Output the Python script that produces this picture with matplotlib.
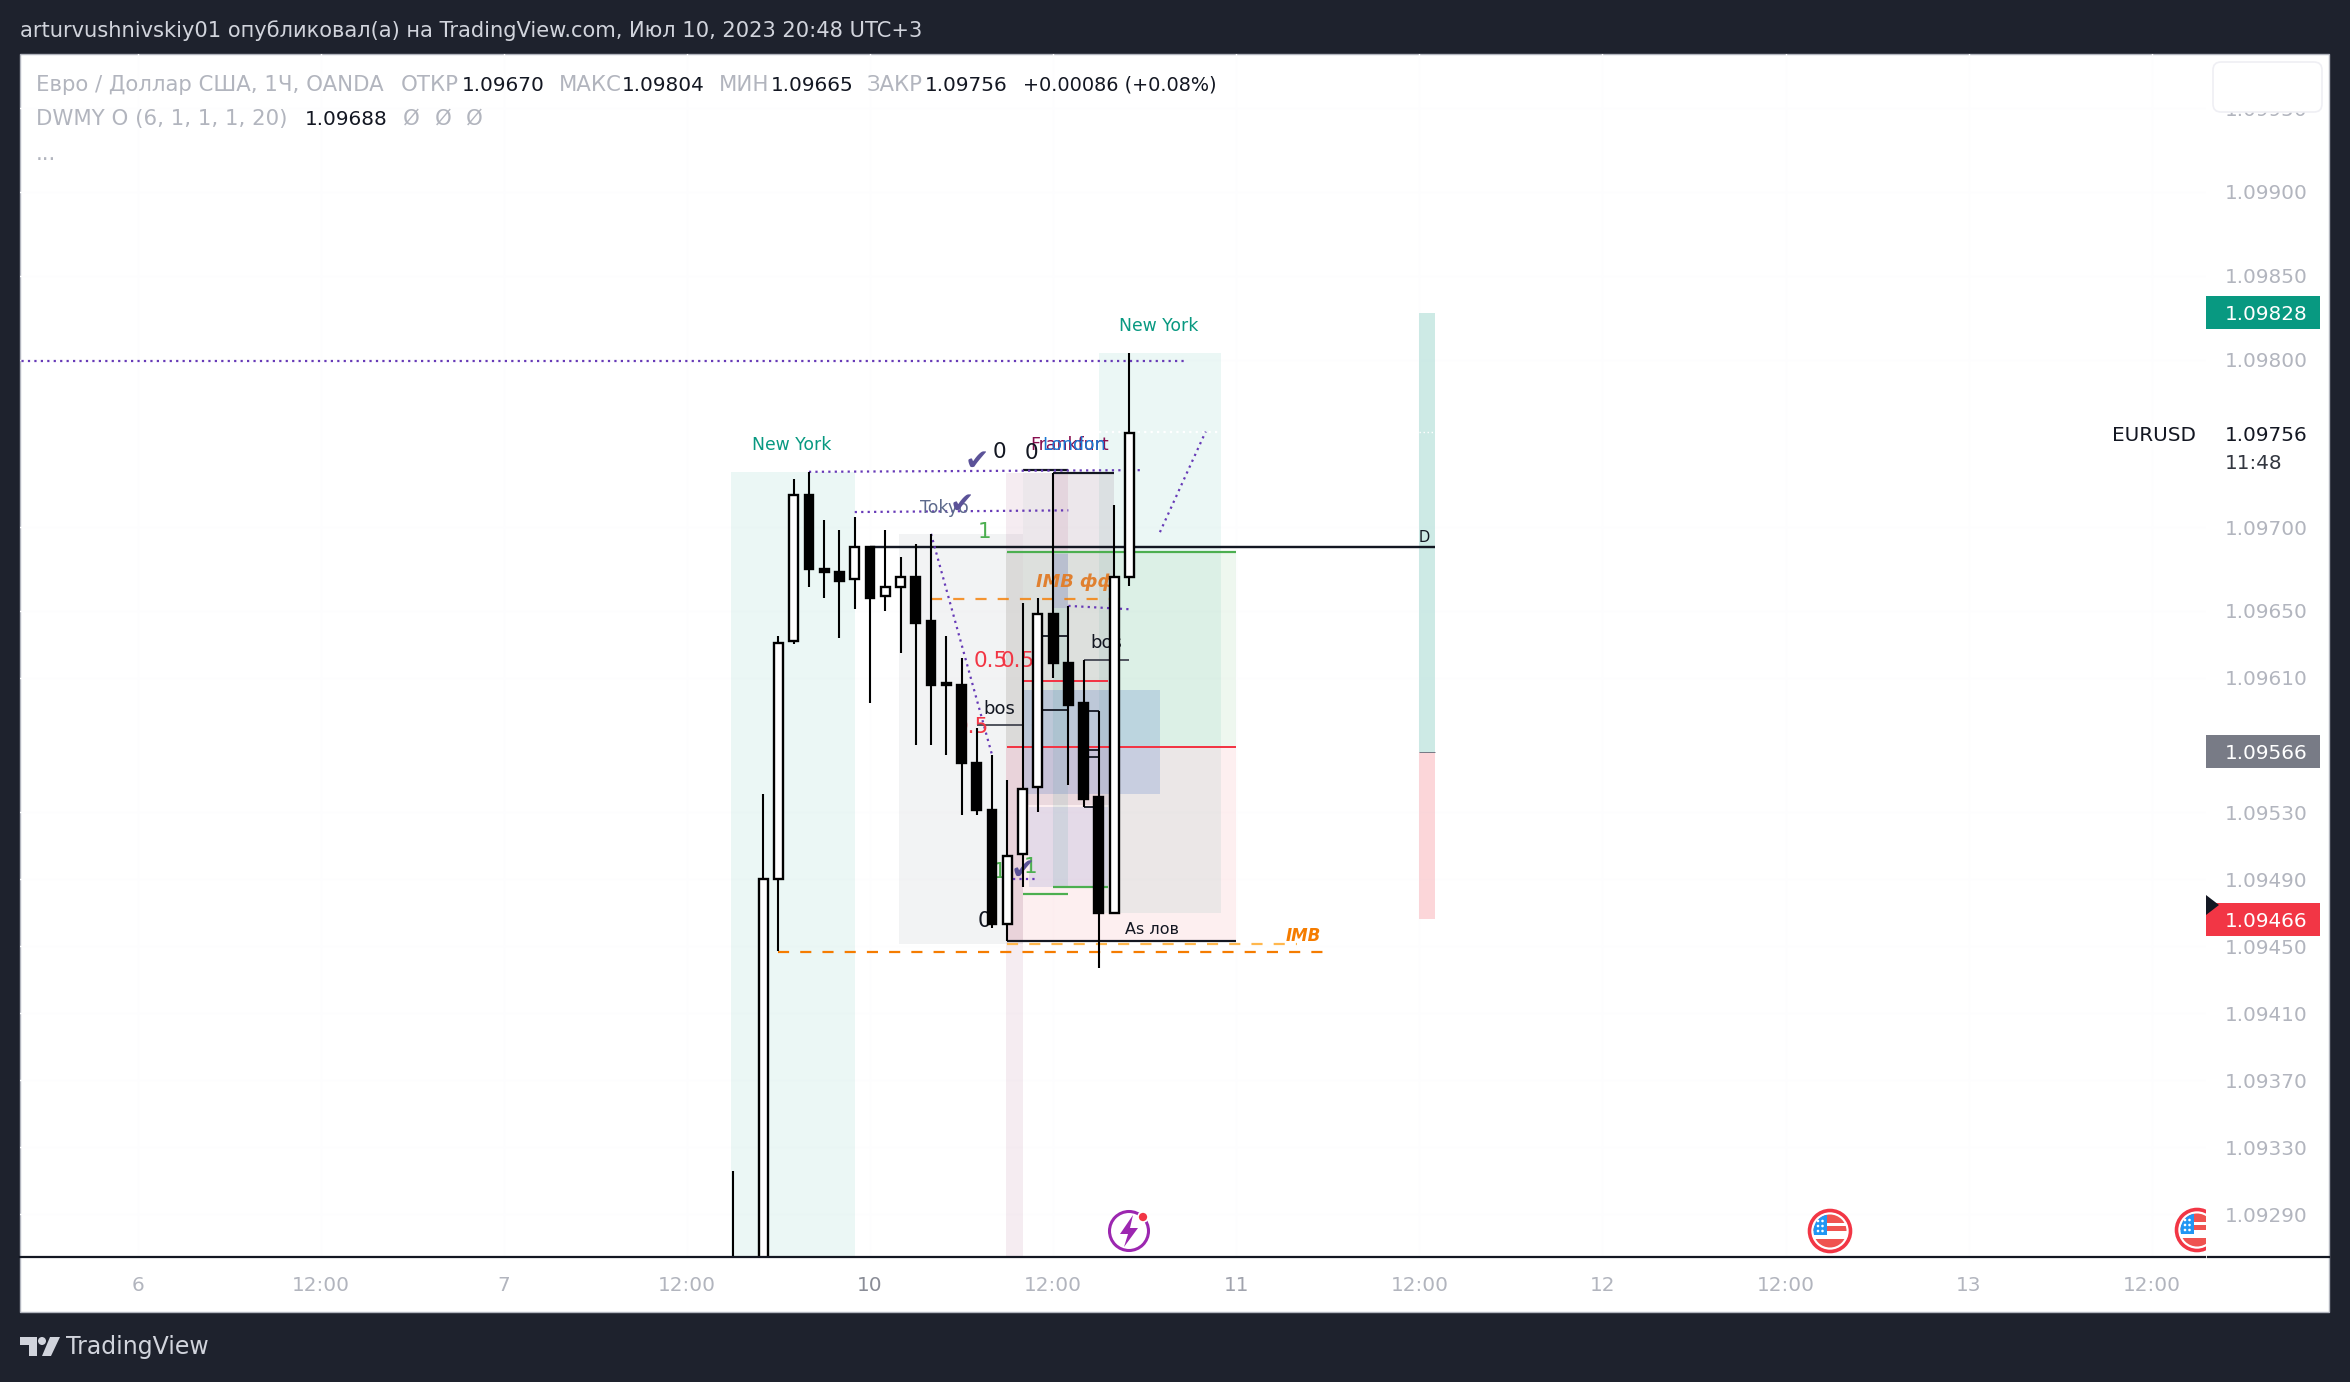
import matplotlib
matplotlib.use("Agg")
from matplotlib import pyplot as plt
from matplotlib.lines import Line2D
from matplotlib.patches import Circle, FancyBboxPatch, Polygon, Rectangle

W, H = 2350, 1382
plt.rcParams["font.family"] = ["DejaVu Sans"]

# candles, hours from 10 Jul 00:00 (weekend collapsed)
bar_hours = [-9, -7, -6, -5, -4, -3, -2, -1, 0, 1, 2, 3, 4, 5, 6, 7, 8, 9, 10, 11, 12, 13, 14, 15, 16, 17]
opens = [1.09210, 1.09180, 1.09490, 1.09632, 1.09719, 1.09675, 1.09673, 1.09669, 1.09688, 1.09659, 1.09664, 1.09670, 1.09644,
         1.09607, 1.09606, 1.09559, 1.09531, 1.09463, 1.09505, 1.09545, 1.09648, 1.09619, 1.09595, 1.09539, 1.09470, 1.09670]
highs = [1.09316, 1.09541, 1.09635, 1.09729, 1.09733, 1.09704, 1.09698, 1.09706, 1.09689, 1.09698, 1.09682, 1.09690, 1.09696,
         1.09635, 1.09622, 1.09580, 1.09564, 1.09549, 1.09655, 1.09658, 1.09732, 1.09653, 1.09621, 1.09590, 1.09713, 1.09804]
lows = [1.09200, 1.09170, 1.09447, 1.09630, 1.09664, 1.09658, 1.09634, 1.09651, 1.09595, 1.09650, 1.09625, 1.09570, 1.09570,
        1.09564, 1.09528, 1.09528, 1.09461, 1.09453, 1.09485, 1.09530, 1.09610, 1.09546, 1.09533, 1.09437, 1.09470, 1.09665]
closes = [1.09240, 1.09490, 1.09631, 1.09719, 1.09675, 1.09673, 1.09668, 1.09688, 1.09658, 1.09664, 1.09670, 1.09643, 1.09606,
          1.09606, 1.09559, 1.09531, 1.09463, 1.09504, 1.09544, 1.09648, 1.09619, 1.09594, 1.09538, 1.09470, 1.09670, 1.09756]

price_ticks = [1.09950, 1.09900, 1.09850, 1.09800, 1.09700, 1.09650, 1.09610, 1.09530,
               1.09490, 1.09450, 1.09410, 1.09370, 1.09330, 1.09290]
time_ticks = [-48, -36, -24, -12, 0, 12, 24, 36, 48, 60, 72, 84]
time_labels = ["6", "12:00", "7", "12:00", "10", "12:00", "11", "12:00", "12", "12:00", "13", "12:00"]

# h0, h1, p_low, p_high, colour, alpha
zones = [
    (-9.1, -1.0, 1.0920, 1.09733, "#089981", 0.08),
    (15.0, 23.0, 1.09470, 1.09804, "#089981", 0.08),
    (1.9, 10.0, 1.09451, 1.09696, "#787B86", 0.09),
    (8.9, 24.0, 1.09569, 1.09685, "#4CAF50", 0.09),
    (8.9, 24.0, 1.09453, 1.09569, "#F23645", 0.08),
    (8.9, 10.0, 1.0920, 1.09732, "#880E4F", 0.08),
    (10.0, 16.0, 1.09534, 1.09732, "#880E4F", 0.05),
    (10.0, 16.0, 1.09534, 1.09732, "#787B86", 0.09),
    (12.0, 13.0, 1.09685, 1.09732, "#880E4F", 0.08),
    (12.0, 13.0, 1.09485, 1.09685, "#089981", 0.09),
    (10.0, 19.0, 1.09541, 1.09603, "#3F6BC4", 0.20),
    (10.4, 15.6, 1.09485, 1.09533, "#3F51B5", 0.13),
    (12.0, 13.0, 1.09652, 1.09684, "#673AB7", 0.16),
    (36.0, 37.0, 1.09566, 1.09828, "#089981", 0.20),
    (36.0, 37.0, 1.09466, 1.09566, "#F23645", 0.20),
]

# h0, p0, h1, p1
purple_dots = [
    (-56, 1.09799, 20.7, 1.09799),
    (-4, 1.09733, 17.8, 1.09734),
    (-1, 1.09709, 13, 1.09710),
    (4, 1.09696, 8, 1.09564),
    (19, 1.09697, 22, 1.09757),
    (13, 1.09653, 17, 1.09651),
    (9.4, 1.09490, 11, 1.09490),
]
# h0, h1, price, colour, width in px
level_lines = [
    (0, 37, 1.09688, "#131722", 2.4),
    (10, 13, 1.09734, "#131722", 2.2),
    (12, 16, 1.09732, "#131722", 2.2),
    (11, 13, 1.09635, "#131722", 1.8),
    (11, 13, 1.09591, "#131722", 1.8),
    (7, 10, 1.09582, "#434651", 1.8),
    (14, 17, 1.09621, "#434651", 1.8),
    (14, 15, 1.09590, "#131722", 1.8),
    (14, 15, 1.09567, "#131722", 1.8),
    (14, 15, 1.09563, "#131722", 1.8),
    (14, 15, 1.09533, "#131722", 1.8),
    (9, 24, 1.09453, "#131722", 2.2),
    (10, 15.6, 1.09608, "#F23645", 2.0),
    (9, 24, 1.09569, "#F23645", 2.0),
    (9, 24, 1.09685, "#4CAF50", 2.2),
    (12, 15.6, 1.09485, "#4CAF50", 2.2),
    (10, 13, 1.09481, "#4CAF50", 2.2),
    (36, 37, 1.09566, "#787B86", 1.0),
]

fig = plt.figure(figsize=(W / 100, H / 100), dpi=100, facecolor="#1E222D")

# panel behind the chart
base = fig.add_axes([0, 0, 1, 1], zorder=0)
base.set_xlim(0, W)
base.set_ylim(H, 0)
base.axis("off")
base.add_patch(Rectangle((20, 54), 2309, 1258, fc="white", ec="#B2B5BE", lw=1))

# chart axes, spans px x 20..2206 and y 54..1257
ax = fig.add_axes([20 / W, 1 - 1257 / H, 2186 / W, 1203 / H], zorder=1)
ax.patch.set_alpha(0)
ax.set_xlim(-55.70, 87.55)
ax.set_ylim(1.092645, 1.099823)
for side in ax.spines.values():
    side.set_visible(False)
ax.set_xticks(time_ticks)
ax.set_xticklabels(time_labels)
ax.set_yticks(price_ticks)
ax.set_yticklabels(["%.5f" % p for p in price_ticks])
ax.yaxis.tick_right()
ax.tick_params(axis="x", length=0, pad=14, labelsize=14.4, labelcolor="#B2B5BE")
ax.tick_params(axis="y", length=0, pad=13.7, labelsize=14.4, labelcolor="#B2B5BE")
for lab in ax.get_xticklabels():
    if lab.get_text() == "10":
        lab.set_color("#8A8D97")
    elif lab.get_text() == "11":
        lab.set_color("#A0A3AD")
ax.grid(True, color="#FDFDFE", lw=1)
ax.set_axisbelow(True)

for h0, h1, p0, p1, col, al in zones:
    ax.add_patch(Rectangle((h0, p0), h1 - h0, p1 - p0, fc=col, alpha=al, ec="none", zorder=1))

dots = (0, (1, 1.9))
for h0, p0, h1, p1 in purple_dots:
    ax.plot([h0, h1], [p0, p1], color="#673AB7", lw=1.6, ls=dots, zorder=4)
ax.plot([15, 23], [1.09757, 1.09757], color="white", lw=1.6, ls=dots, zorder=4)
ax.plot([36, 37], [1.09757, 1.09757], color="white", lw=1.0, ls=dots, zorder=4)

for h0, h1, price, col, px in level_lines:
    ax.plot([h0, h1], [price, price], color=col, lw=px * 0.72, zorder=3, solid_capstyle="butt")
dashes = (0, (5, 5))
ax.plot([4, 15.7], [1.09657, 1.09657], color="#F57C00", lw=1.6, ls=dashes, alpha=0.8, zorder=3)
ax.plot([-6, 29.8], [1.094465, 1.094465], color="#F57C00", lw=1.6, ls=dashes, zorder=3)
ax.plot([9, 28], [1.09451, 1.09451], color="#FFB74D", lw=1.6, ls=dashes, zorder=3)

# annotations under the candles
notes = [
    ("New York", -5.1, 1.09749, "#089981", 12.4, "normal", "normal"),
    ("New York", 18.9, 1.098202, "#089981", 12.4, "normal", "normal"),
    ("Frankfurt", 13.1, 1.09749, "#880E4F", 12.4, "normal", "normal"),
    ("London", 13.4, 1.09749, "#1976D2", 12.4, "normal", "normal"),
    ("Tokyo", 4.9, 1.097115, "#5D6A8C", 12.4, "normal", "normal"),
    ("0", 8.5, 1.09745, "#131722", 15.5, "normal", "normal"),
    ("0", 10.6, 1.09744, "#131722", 15.5, "normal", "normal"),
    ("0", 7.5, 1.09465, "#131722", 15.5, "normal", "normal"),
    ("1", 7.5, 1.09697, "#4CAF50", 15.5, "normal", "normal"),
    ("1", 8.5, 1.09494, "#4CAF50", 15.5, "normal", "normal"),
    ("1", 10.5, 1.09497, "#4CAF50", 15.5, "normal", "normal"),
    ("0.5", 7.9, 1.09620, "#F23645", 15.5, "normal", "normal"),
    ("0.5", 9.7, 1.09620, "#F23645", 15.5, "normal", "normal"),
    ("0.5", 6.7, 1.09581, "#F23645", 15.5, "normal", "normal"),
    ("bos", 8.5, 1.095915, "#131722", 13, "normal", "normal"),
    ("bos", 15.5, 1.09631, "#131722", 13, "normal", "normal"),
    ("As лов", 18.5, 1.09460, "#131722", 11.5, "normal", "normal"),
    ("IMB", 28.4, 1.09456, "#F57C00", 12, "italic", "bold"),
    ("IMB фф", 13.5, 1.09667, "#E08030", 12.8, "italic", "bold"),
    ("D", 36.3, 1.09694, "#131722", 10.5, "normal", "normal"),
    ("✔", 7.0, 1.09739, "#5B5298", 21, "normal", "normal"),
    ("✔", 6.0, 1.09713, "#5B5298", 21, "normal", "normal"),
    ("✔", 10.0, 1.09495, "#5B5298", 21, "normal", "normal"),
]
for txt, h, p, col, size, style, weight in notes:
    ax.text(h, p, txt, color=col, fontsize=size, style=style, weight=weight, ha="center", va="center", zorder=4)

ax.vlines(bar_hours, lows, highs, color="black", lw=1.5, zorder=5)
for h, o, c in zip(bar_hours, opens, closes):
    ax.bar(h, abs(c - o), bottom=min(o, c), width=0.58, color="white" if c >= o else "black",
           edgecolor="black", linewidth=1.7, zorder=6)

# price tags on the scale
tags = [(1.09828, "#089981"), (1.09566, "#787B86"), (1.09466, "#F23645")]
for price, col in tags:
    ax.add_patch(Rectangle((87.55, price - 0.0001), 7.47, 0.0002, fc=col, ec="none", clip_on=False, zorder=7))
    ax.text(88.8, price, "%.5f" % price, color="white", fontsize=14.4, va="center_baseline", zorder=8, clip_on=False)
ax.text(88.8, 1.09756, "1.09756", color="#131722", fontsize=14.4, va="center_baseline", clip_on=False)
ax.text(88.8, 1.09739, "11:48", color="#333740", fontsize=14.4, va="center_baseline", clip_on=False)
ax.text(81.4, 1.09756, "EURUSD", color="#131722", fontsize=14.4, va="center_baseline", clip_on=False)

# chrome on top, in pixels
top = fig.add_axes([0, 0, 1, 1], zorder=2)
top.set_xlim(0, W)
top.set_ylim(H, 0)
top.axis("off")
top.patch.set_alpha(0)
top.add_patch(FancyBboxPatch((2219, 68), 97, 38, boxstyle="round,pad=6,rounding_size=8", fc="white", ec="#EFEFF4", lw=1.2))
top.add_patch(Polygon([(2206, 895), (2219, 905), (2206, 915)], fc="#131722", ec="none"))
top.add_artist(Line2D([20, 2205], [1257, 1257], color="#131722", lw=1.6))
top.add_artist(Line2D([2208, 2329], [1257, 1257], color="#131722", lw=1.6))

# session icon
top.add_patch(Circle((1129, 1231), 19.5, fc="white", ec="#9C27B0", lw=2.2))
top.add_patch(Polygon([(1133, 1215), (1120, 1234), (1128, 1234), (1124, 1247), (1138, 1228), (1130, 1228)], fc="#9C27B0", ec="none"))
top.add_patch(Circle((1143, 1217), 5, fc="#F23645", ec="white", lw=1.2))


def flag(cx, cy):
    top.add_patch(Circle((cx, cy), 20.5, fc="white", ec="#F23645", lw=2.6))
    inner = Circle((cx, cy), 16.5, fc="white", ec="none")
    top.add_patch(inner)
    parts = [
        Rectangle((cx - 17, cy - 17), 34, 9, fc="#EF5350", ec="none"),
        Rectangle((cx - 17, cy - 5), 34, 5, fc="#EF5350", ec="none"),
        Rectangle((cx - 17, cy + 8), 34, 10, fc="#EF5350", ec="none"),
        Rectangle((cx - 17, cy - 17), 14, 21, fc="#2196F3", ec="none"),
    ]
    for part in parts:
        top.add_patch(part)
        part.set_clip_path(inner)
    for sx in (-12, -7.5):
        for sy in (-10, -5, 0):
            top.add_patch(Circle((cx + sx, cy + sy), 1.3, fc="white", ec="none"))


flag(1830, 1231)
flag(2197, 1230)
top.add_patch(Rectangle((2206, 1205), 16, 50, fc="white", ec="none"))

# legend block
GREY = "#B2B5BE"
BLACK = "#131722"
row1 = [("Евро / Доллар США, 1Ч, OANDA", 36, GREY), ("ОТКР", 401, GREY), ("1.09670", 462, BLACK),
        ("МАКС", 559, GREY), ("1.09804", 622, BLACK), ("МИН", 719, GREY), ("1.09665", 771, BLACK),
        ("ЗАКР", 867, GREY), ("1.09756", 925, BLACK)]
row2 = [("DWMY O (6, 1, 1, 1, 20)", 36, GREY), ("1.09688", 305, BLACK), ("Ø", 403, GREY), ("Ø", 435, GREY), ("Ø", 466, GREY)]
for row, y in ((row1, 85), (row2, 119)):
    for txt, x, col in row:
        is_value = col == BLACK
        top.text(x, y, txt, color=col, fontsize=14.4 if is_value else 15.3, va="center")
top.text(1023, 85, "+0.00086 (+0.08%)", color=BLACK, fontsize=13.9, va="center")
top.text(36, 154, "...", color=GREY, fontsize=15.3, va="center")

top.text(20, 31, "arturvushnivskiy01 опубликовал(а) на TradingView.com, Июл 10, 2023 20:48 UTC+3",
         color="#D1D4DC", fontsize=15.1, va="center")

# logo
top.add_patch(Polygon([(20, 1337), (37, 1337), (37, 1356), (29, 1356), (29, 1345), (20, 1345)], fc="#D1D4DC", ec="none"))
top.add_patch(Circle((42, 1341), 4, fc="#D1D4DC", ec="none"))
top.add_patch(Polygon([(50, 1337), (60, 1337), (51, 1356), (42, 1356)], fc="#D1D4DC", ec="none"))
top.text(66, 1347, "TradingView", color="#D1D4DC", fontsize=17, va="center")

fig.savefig("out.png", dpi=100, facecolor=fig.get_facecolor())
